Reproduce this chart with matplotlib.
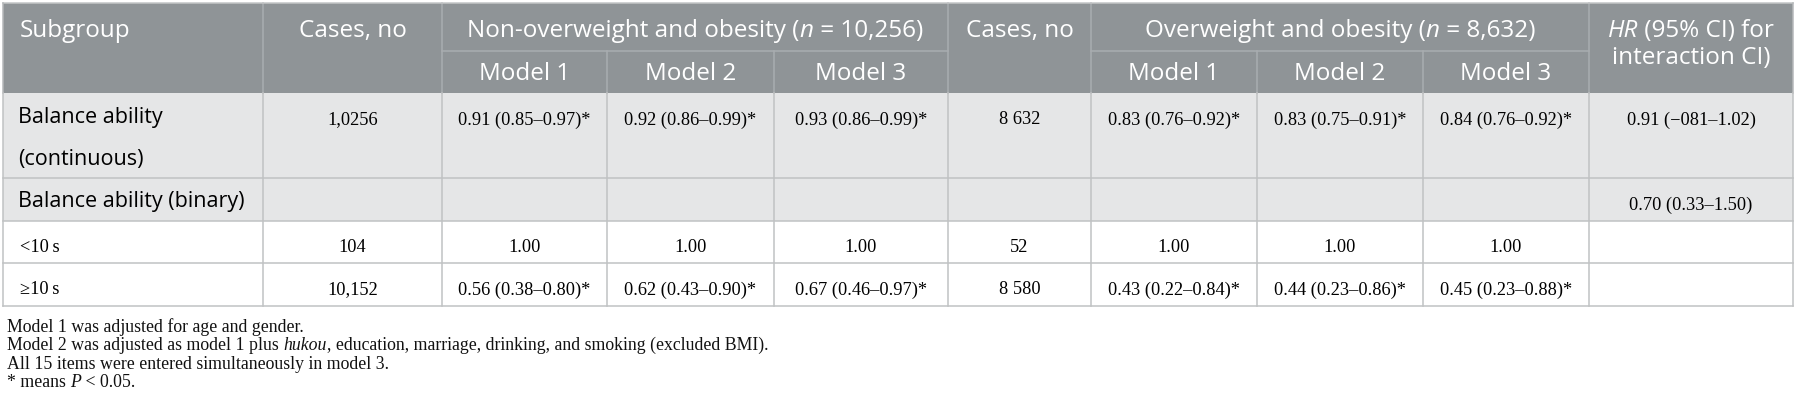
import matplotlib.pyplot as plt
from matplotlib.patches import Rectangle

# table content
subgroups = ["Balance ability\n(continuous)", "Balance ability (binary)", "<10\u2009s", "\u226510\u2009s"]
cases_non = ["1,0256", "", "104", "10,152"]
non_m1 = ["0.91 (0.85\u20130.97)*", "", "1.00", "0.56 (0.38\u20130.80)*"]
non_m2 = ["0.92 (0.86\u20130.99)*", "", "1.00", "0.62 (0.43\u20130.90)*"]
non_m3 = ["0.93 (0.86\u20130.99)*", "", "1.00", "0.67 (0.46\u20130.97)*"]
cases_ow = ["8 632", "", "52", "8 580"]
ow_m1 = ["0.83 (0.76\u20130.92)*", "", "1.00", "0.43 (0.22\u20130.84)*"]
ow_m2 = ["0.83 (0.75\u20130.91)*", "", "1.00", "0.44 (0.23\u20130.86)*"]
ow_m3 = ["0.84 (0.76\u20130.92)*", "", "1.00", "0.45 (0.23\u20130.88)*"]
hr_inter = ["0.91 (\u2212081\u20131.02)", "0.70 (0.33\u20131.50)", "", ""]

group_names = ["Non-overweight and obesity", "Overweight and obesity"]
group_n = ["10,256", "8,632"]
model_names = ["Model 1", "Model 2", "Model 3"]

footnotes = [
    [("Model 1 was adjusted for age and gender.", "normal")],
    [("Model 2 was adjusted as model 1 plus ", "normal"), ("hukou", "italic"),
     (", education, marriage, drinking, and smoking (excluded BMI).", "normal")],
    [("All 15 items were entered simultaneously in model 3.", "normal")],
    [("* means ", "normal"), ("P", "italic"), (" < 0.05.", "normal")],
]

columns = [subgroups, cases_non, non_m1, non_m2, non_m3, cases_ow, ow_m1, ow_m2, ow_m3, hr_inter]

# layout (pixels)
W, H = 1797, 408
col_x = [3, 263, 442, 607, 774, 948, 1091, 1257, 1423, 1589, 1793]
row_y = [3, 51, 93, 178, 221, 263, 306]

HEAD_BG = "#8f9497"
HEAD_LINE = "#a9adb0"
BODY_GRAY = "#e5e6e7"
BODY_LINE = "#c0c2c3"
SANS = "Open Sans"
SERIF = "Liberation Serif"

fig = plt.figure(figsize=(W / 100, H / 100), dpi=100)
ax = fig.add_axes([0, 0, 1, 1])
ax.set_xlim(0, W)
ax.set_ylim(H, 0)
ax.axis("off")
renderer = fig.canvas.get_renderer()


def adv(s, **kw):
    # advance width of a string, spaces included
    t1 = ax.text(0, 0, "|" + s + "|", **kw)
    t2 = ax.text(0, 0, "||", **kw)
    w = t1.get_window_extent(renderer).width - t2.get_window_extent(renderer).width
    t1.remove()
    t2.remove()
    return w


def fit(s, target, **kw):
    # font size (pt) giving the pixel width measured on the reference
    return 10 * target / adv(s, fontsize=10, **kw)


def rich(x, y, runs, ha="center", **kw):
    widths = [adv(s, fontstyle=st, **kw) for s, st in runs]
    total = sum(widths)
    x0 = x - total / 2 if ha == "center" else x
    for (s, st), w in zip(runs, widths):
        ax.text(x0, y, s, fontstyle=st, ha="left", va="baseline", **kw)
        x0 += w


head_fs = (fit("Model 1", 90, family=SANS) + fit("Cases, no", 108, family=SANS)
           + fit("Subgroup", 112, family=SANS)) / 3
sans_fs = fit("Balance ability", 145, family=SANS)
serif_fs = fit(non_m1[0], 131, family=SERIF)
foot_fs = fit("".join(s for s, _ in footnotes[1]), 759, family=SERIF)

# header background
ax.add_patch(Rectangle((col_x[0], row_y[0]), col_x[-1] - col_x[0], row_y[2] - row_y[0],
                       facecolor=HEAD_BG, edgecolor="none"))
# body backgrounds
for i in range(4):
    fc = BODY_GRAY if i < 2 else "white"
    ax.add_patch(Rectangle((col_x[0], row_y[i + 2]), col_x[-1] - col_x[0],
                           row_y[i + 3] - row_y[i + 2], facecolor=fc, edgecolor="none"))

lw = 1.1
# header lines
for x in [col_x[1], col_x[2], col_x[5], col_x[6], col_x[9]]:
    ax.plot([x, x], [row_y[0], row_y[2]], color=HEAD_LINE, lw=lw)
for x in [col_x[3], col_x[4], col_x[7], col_x[8]]:
    ax.plot([x, x], [row_y[1], row_y[2]], color=HEAD_LINE, lw=lw)
ax.plot([col_x[2], col_x[5]], [row_y[1], row_y[1]], color=HEAD_LINE, lw=lw)
ax.plot([col_x[6], col_x[9]], [row_y[1], row_y[1]], color=HEAD_LINE, lw=lw)
ax.plot([col_x[0], col_x[-1]], [row_y[0], row_y[0]], color="#c4c6c7", lw=lw)
ax.plot([col_x[0], col_x[0]], [row_y[0], row_y[2]], color="#b5b8ba", lw=lw)
ax.plot([col_x[-1], col_x[-1]], [row_y[0], row_y[2]], color="#b5b8ba", lw=lw)

# body lines
for x in col_x:
    ax.plot([x, x], [row_y[2], row_y[-1]], color=BODY_LINE, lw=lw)
for y in row_y[3:]:
    ax.plot([col_x[0], col_x[-1]], [y, y], color=BODY_LINE, lw=lw)

# header text
hkw = dict(family=SANS, fontsize=head_fs, color="white")
ax.text(20, 37, "Subgroup", ha="left", va="baseline", **hkw)
for c in [1, 5]:
    ax.text((col_x[c] + col_x[c + 1]) / 2, 37, "Cases, no", ha="center", va="baseline", **hkw)
for g, c0 in enumerate([2, 6]):
    xc = (col_x[c0] + col_x[c0 + 3]) / 2
    rich(xc, 37, [(group_names[g] + " (", "normal"), ("n", "italic"),
                  (" = " + group_n[g] + ")", "normal")], **hkw)
    for m in range(3):
        c = c0 + m
        ax.text((col_x[c] + col_x[c + 1]) / 2, 80, model_names[m], ha="center",
                va="baseline", **hkw)
xc = (col_x[9] + col_x[10]) / 2
rich(xc, 37, [("HR", "italic"), (" (95% CI) for", "normal")], **hkw)
ax.text(xc, 64, "interaction CI)", ha="center", va="baseline", **hkw)

# body text
skw = dict(family=SANS, fontsize=sans_fs, color="black")
nkw = dict(family=SERIF, fontsize=serif_fs, color="black")
for i in range(4):
    top = row_y[i + 2]
    label = subgroups[i]
    if i < 2:
        for k, line in enumerate(label.split("\n")):
            ax.text(18, top + 29.5 + 42 * k, line, ha="left", va="baseline", **skw)
    else:
        ax.text(20, top + 31.5, label, ha="left", va="baseline", **nkw)
    for c in range(1, 10):
        val = columns[c][i]
        if val:
            ax.text((col_x[c] + col_x[c + 1]) / 2, top + 31.5, val, ha="center",
                    va="baseline", **nkw)

# footnotes
fkw = dict(family=SERIF, fontsize=foot_fs, color="#111111")
for k, runs in enumerate(footnotes):
    rich(7, 332 + 18.4 * k, runs, ha="left", **fkw)

fig.savefig("out.png", dpi=100)
